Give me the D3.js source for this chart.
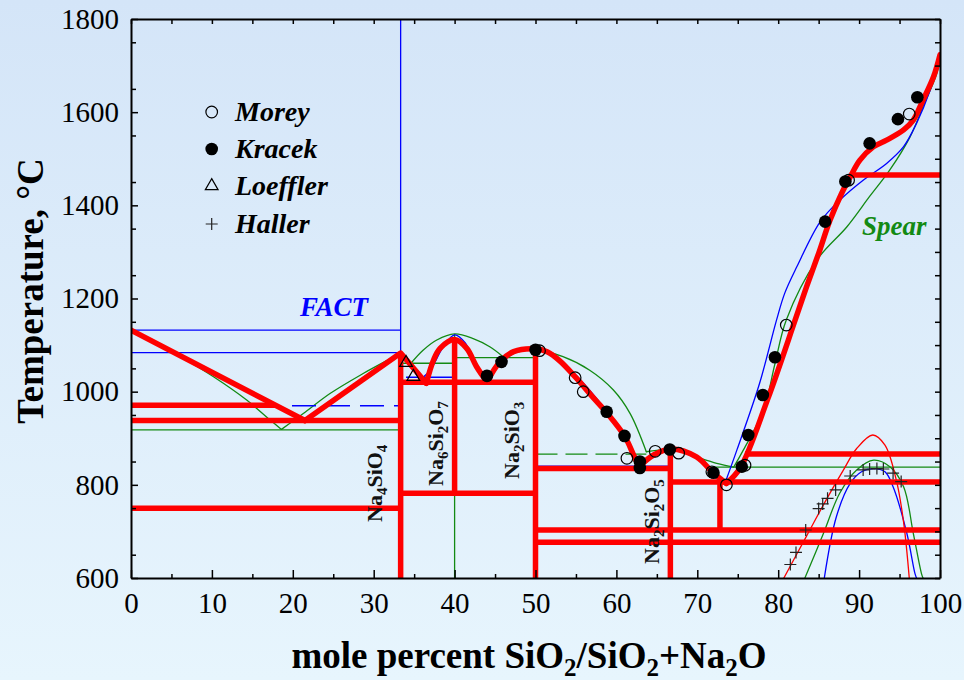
<!DOCTYPE html>
<html>
<head>
<meta charset="utf-8">
<script src="https://cdn.jsdelivr.net/npm/d3@7"></script>
<style>
  html, body { margin: 0; padding: 0; background: #e0eefa; }
  svg { display: block; }
</style>
</head>
<body>
<svg id="chart" width="964" height="680"></svg>
<script>
// ---- Axis ticks ----
const xTicks = [0, 10, 20, 30, 40, 50, 60, 70, 80, 90, 100];
const yTicks = [600, 800, 1000, 1200, 1400, 1600, 1800];

// ---- Assessed diagram (red): liquidus branches, [mol% SiO2, T °C] ----
const redNa2O      = [[0, 1132], [21.5, 938]];
const redNa4SiO4   = [[21.5, 938], [33.33, 1083], [36.5, 1018]];
const redNa6Si2O7  = [[36.5, 1018], [37.4, 1068], [38.2, 1093], [40, 1112], [41.5, 1093], [42.7, 1054], [44, 1021]];
const redNa2SiO3   = [[44, 1021], [45.6, 1064], [47.3, 1086], [50, 1092], [51.5, 1085], [53, 1066], [55, 1030], [57, 990], [58.8, 955], [61, 905], [62.1, 865], [62.8, 839]];
const redNa2Si2O5  = [[62.8, 839], [64.6, 864], [66.7, 877], [69.9, 860], [72, 825], [73.6, 803]];
const redSiO2      = [[73.6, 803], [75.3, 836], [78.7, 984], [82.1, 1154], [83.5, 1225], [85, 1297], [86.4, 1368], [87.85, 1426], [88.9, 1461], [90.1, 1497], [91.8, 1526], [93.4, 1540], [95.5, 1562], [96.7, 1583], [97.9, 1626], [99.2, 1676], [100, 1723]];
const redDome      = [[80.7, 600], [83.5, 690], [86, 770], [88, 830], [89.7, 878], [91.7, 907], [93.2, 885], [94.6, 810], [95.5, 720], [96.2, 600]];
// isotherms [T, x1, x2] and compound lines [x, T1, T2]
const redIsotherms = [[971, 0, 17.8], [938, 0, 33.33], [750, 0, 33.33], [1020, 33.33, 50], [782, 33.33, 50], [835, 50, 66.67], [806, 66.67, 100], [703, 50, 100], [677, 50, 100], [866, 75.9, 100], [1465, 88.9, 100]];
const redCompounds = [[33.33, 600, 1083], [40, 782, 1112], [50, 600, 1092], [66.67, 600, 877], [72.8, 703, 806]];

// ---- FACT calculation (blue) ----
const blueNa4SiO4  = [[33.33, 1084], [34.9, 1054], [36.1, 1031]];
const blueNa6Si2O7 = [[36.1, 1031], [37, 1046], [38.6, 1096], [40, 1122], [41.3, 1105], [42.7, 1054], [44, 1025]];
const blueNa2SiO3  = [[44, 1025], [46, 1066], [48, 1088], [50, 1093], [52, 1082], [55.3, 1030], [58.5, 965], [61.3, 900], [62.7, 842]];
const blueSiO2     = [[73.6, 812], [74.9, 875], [77.7, 1018], [79.8, 1154], [80.8, 1211], [82.3, 1268], [85.2, 1365], [87.6, 1411], [90.5, 1454], [93.4, 1490], [95.5, 1526], [97.1, 1576], [98.8, 1648], [100, 1719]];
const blueDome     = [[85.7, 600], [87.2, 732], [88.9, 803], [90.3, 828], [91.8, 835], [93.2, 828], [94.2, 796], [95.9, 696], [96.9, 610], [97.1, 600]];
const blueIsotherms = [[1132, 0, 33.33], [1084, 0, 33.33], [1031, 34, 40], [840, 50, 66.67]];
const blueDashed    = [[970, 19.9, 33.33]];
const blueCompounds = [[33.33, 1084, 1800]];

// ---- Spear (green) ----
const greenNa2O      = [[0, 1132], [3, 1104], [6.1, 1075], [10.2, 1032], [14.3, 982], [17.2, 939], [18.6, 919]];
const greenNa4SiO4   = [[18.6, 919], [21.3, 953], [24.6, 996], [28.7, 1039], [32.4, 1074], [33.33, 1083]];
const greenNa4SiO4b  = [[33.33, 1083], [34.6, 1061]];
const greenNa6Si2O7  = [[34.6, 1061], [36.1, 1089], [37.8, 1111], [40, 1124], [42.3, 1114], [44.4, 1096], [46, 1075]];
const greenNa2SiO3   = [[46, 1075], [48, 1086], [50, 1090], [53.4, 1075], [56.7, 1046], [59.6, 1004], [61.7, 953], [63.7, 871]];
const greenNa2Si2O5  = [[63.7, 871], [65, 874], [66.7, 876], [69.1, 864], [72.4, 846], [74.5, 838]];
const greenSiO2      = [[74.5, 838], [75.7, 875], [78.2, 961], [79.6, 1060], [81, 1154], [84.8, 1283], [88.5, 1354], [91.3, 1419], [93.8, 1476], [96.3, 1547], [97.9, 1612], [99.6, 1683], [100, 1719]];
const greenDome      = [[83.3, 600], [85.6, 696], [87.6, 782], [89.7, 832], [91.8, 853], [93.8, 839], [95.5, 796], [96.7, 696], [97.7, 610], [97.9, 600]];
const greenIsotherms = [[918, 0, 33.33], [1061, 33.33, 40], [1073, 40, 50], [838, 71, 100]];
const greenDashed    = [[866, 50, 63.7]];
const greenCompounds = [[40, 600, 1124]];

// ---- Experimental points ----
const morey    = [[50.5, 1088], [54.9, 1030], [55.9, 1000], [61.3, 857], [64.8, 872], [67.7, 868], [71.8, 828], [73.6, 800], [75.9, 842], [81.0, 1143], [88.7, 1454], [96.2, 1596]];
const kracek   = [[44, 1034], [45.8, 1064], [50, 1090], [58.8, 957], [61, 905], [62.9, 850], [62.9, 836], [66.6, 876], [72, 826], [75.5, 839], [76.3, 907], [78.1, 993], [79.6, 1074], [85.8, 1365], [88.3, 1451], [91.3, 1533], [94.8, 1585], [97.2, 1632]];
const loeffler = [[34.9, 1032], [34.0, 1062]];
const haller   = [[81.5, 629], [82.2, 655], [83.4, 703], [85.0, 749], [85.5, 759], [86.1, 771], [87.1, 789], [88.9, 819], [90.5, 832], [91.3, 834], [92.2, 835], [93.0, 834], [94.2, 825], [95.2, 807]];

const legendNames = ["Morey", "Kracek", "Loeffler", "Haller"];

// ---- Colours ----
const RED = "#ff0000", BLUE = "#0000ff", GREEN = "#138a13";
const SERIF = "'Liberation Serif', 'Times New Roman', serif";

const svg = d3.select("#chart");
const W = 964, H = 680;

// background gradient
const defs = svg.append("defs");
const grad = defs.append("linearGradient").attr("id", "bg").attr("x1", 0).attr("y1", 0).attr("x2", 0).attr("y2", 1);
grad.append("stop").attr("offset", "0%").attr("stop-color", "#d4e5f8");
grad.append("stop").attr("offset", "100%").attr("stop-color", "#e7f5fd");
svg.append("rect").attr("width", W).attr("height", H).attr("fill", "url(#bg)");

const x = d3.scaleLinear().domain([0, 100]).range([131, 940]);
const y = d3.scaleLinear().domain([600, 1800]).range([578, 19]);

defs.append("clipPath").attr("id", "plot")
  .append("rect").attr("x", x(0)).attr("y", y(1800)).attr("width", x(100) - x(0)).attr("height", y(600) - y(1800));

const plot = svg.append("g").attr("clip-path", "url(#plot)");

const smooth = d3.line().x(d => x(d[0])).y(d => y(d[1])).curve(d3.curveCatmullRom.alpha(0.5));
const straight = d3.line().x(d => x(d[0])).y(d => y(d[1]));

function curves(list, color, width, gen) {
  list.forEach(pts => plot.append("path").attr("d", gen(pts))
    .attr("fill", "none").attr("stroke", color).attr("stroke-width", width)
    .attr("stroke-linejoin", "round").attr("stroke-linecap", "round"));
}
function isotherms(list, color, width, dash) {
  plot.append("g").selectAll("line").data(list).join("line")
    .attr("x1", d => x(d[1])).attr("x2", d => x(d[2]))
    .attr("y1", d => y(d[0])).attr("y2", d => y(d[0]))
    .attr("stroke", color).attr("stroke-width", width)
    .attr("stroke-dasharray", dash || null);
}
function verticals(list, color, width) {
  plot.append("g").selectAll("line").data(list).join("line")
    .attr("x1", d => x(d[0])).attr("x2", d => x(d[0]))
    .attr("y1", d => y(d[1])).attr("y2", d => y(d[2]))
    .attr("stroke", color).attr("stroke-width", width);
}

// Spear (green)
isotherms(greenIsotherms, GREEN, 1.3);
isotherms(greenDashed, GREEN, 1.3, "22 8");
verticals(greenCompounds, GREEN, 1.3);
curves([greenNa2O, greenNa4SiO4, greenNa6Si2O7, greenNa2SiO3, greenNa2Si2O5, greenSiO2, greenDome], GREEN, 1.3, smooth);
curves([greenNa4SiO4b], GREEN, 1.3, straight);

// FACT (blue)
isotherms(blueIsotherms, BLUE, 1.3);
isotherms(blueDashed, BLUE, 1.5, "24 10");
verticals(blueCompounds, BLUE, 1.3);
curves([blueNa4SiO4], BLUE, 1.3, straight);
curves([blueNa6Si2O7, blueNa2SiO3, blueSiO2, blueDome], BLUE, 1.3, smooth);

// assessed diagram (red)
curves([redDome], RED, 1.3, smooth);
isotherms(redIsotherms, RED, 5.5);
verticals(redCompounds, RED, 5.5);
curves([redNa2O, redNa4SiO4], RED, 5.5, straight);
curves([redNa6Si2O7, redNa2SiO3, redNa2Si2O5, redSiO2], RED, 5.5, smooth);

// experimental points
const marks = svg.append("g");
marks.selectAll(".morey").data(morey).join("circle")
  .attr("cx", d => x(d[0])).attr("cy", d => y(d[1])).attr("r", 5.8)
  .attr("fill", "none").attr("stroke", "#000").attr("stroke-width", 1.2);
marks.selectAll(".kracek").data(kracek).join("circle")
  .attr("cx", d => x(d[0])).attr("cy", d => y(d[1])).attr("r", 6.3).attr("fill", "#000");
const tri = d3.symbol().type(d3.symbolTriangle).size(70);
marks.selectAll(".loeffler").data(loeffler).join("path")
  .attr("transform", d => `translate(${x(d[0])},${y(d[1])})`).attr("d", tri())
  .attr("fill", "none").attr("stroke", "#000").attr("stroke-width", 1.2);
marks.selectAll(".haller").data(haller).join("path")
  .attr("transform", d => `translate(${x(d[0])},${y(d[1])})`)
  .attr("d", "M-6,0H6M0,-6V6").attr("stroke", "#222").attr("stroke-width", 1.2);

// axes
function styleAxis(g) {
  g.selectAll(".domain").attr("stroke", "#000").attr("stroke-width", 2);
  g.selectAll(".tick line").attr("stroke", "#000").attr("stroke-width", 1.5);
  g.selectAll(".tick text").attr("font-family", SERIF).attr("font-size", 29).attr("fill", "#000");
}
const dropLabels = g => g.selectAll(".tick text").remove();
const xMinor = d3.range(5, 100, 10);
const xAll = d3.range(0, 101, 5);
const yMinor = d3.range(650, 1800, 100);
const yAll = d3.range(600, 1801, 50);

svg.append("g").attr("transform", `translate(0,${y(600)})`)
  .call(d3.axisBottom(x).tickValues(xMinor).tickSize(-4))
  .call(g => g.select(".domain").remove()).call(dropLabels).call(styleAxis);
svg.append("g").attr("transform", `translate(0,${y(1800)})`)
  .call(d3.axisTop(x).tickValues(xAll).tickSize(-5).tickSizeOuter(0)).call(dropLabels).call(styleAxis);
svg.append("g").attr("transform", `translate(${x(100)},0)`)
  .call(d3.axisRight(y).tickValues(yAll).tickSize(-5).tickSizeOuter(0)).call(dropLabels).call(styleAxis);
svg.append("g").attr("transform", `translate(${x(0)},0)`)
  .call(d3.axisLeft(y).tickValues(yMinor).tickSize(-5))
  .call(g => g.select(".domain").remove()).call(dropLabels).call(styleAxis);
svg.append("g").attr("transform", `translate(0,${y(600)})`)
  .call(d3.axisBottom(x).tickValues(xTicks).tickSize(-8).tickSizeOuter(0).tickPadding(14).tickFormat(d3.format("d"))).call(styleAxis);
svg.append("g").attr("transform", `translate(${x(0)},0)`)
  .call(d3.axisLeft(y).tickValues(yTicks).tickSize(-7).tickSizeOuter(0).tickPadding(12).tickFormat(d3.format("d"))).call(styleAxis);

// chemical formula text with subscripts: parts alternate plain / subscript digits
function chem(t, parts, sub) {
  let lowered = false;
  parts.forEach(p => {
    const isSub = /^\d$/.test(p);
    const span = t.append("tspan").text(p);
    if (isSub) {
      span.attr("font-size", sub.size);
      if (!lowered) { span.attr("dy", sub.dy); lowered = true; }
    } else if (lowered) {
      span.attr("dy", -sub.dy); lowered = false;
    }
  });
}

// axis titles
const xt = svg.append("text").attr("x", 529).attr("y", 668).attr("text-anchor", "middle")
  .attr("font-family", SERIF).attr("font-weight", "bold").attr("font-size", 37).attr("fill", "#000");
chem(xt, ["mole percent SiO", "2", "/SiO", "2", "+Na", "2", "O"], {size: 25, dy: 8});

svg.append("text").attr("transform", "translate(43,291) rotate(-90)").attr("text-anchor", "middle")
  .attr("font-family", SERIF).attr("font-weight", "bold").attr("font-size", 37).attr("fill", "#000")
  .text("Temperature, \u00b0C");

// compound labels
const compoundLabels = [
  {parts: ["Na", "4", "SiO", "4"], px: 382, py: 522},
  {parts: ["Na", "6", "Si", "2", "O", "7"], px: 443, py: 486},
  {parts: ["Na", "2", "SiO", "3"], px: 519, py: 479},
  {parts: ["Na", "2", "Si", "2", "O", "5"], px: 659, py: 564}
];
compoundLabels.forEach(c => {
  const t = svg.append("text").attr("transform", `translate(${c.px},${c.py}) rotate(-90)`)
    .attr("font-family", SERIF).attr("font-weight", "bold").attr("font-size", 22).attr("fill", "#111");
  chem(t, c.parts, {size: 15, dy: 5});
});

// model labels
svg.append("text").attr("x", 334).attr("y", 316).attr("text-anchor", "middle")
  .attr("font-family", SERIF).attr("font-weight", "bold").attr("font-style", "italic")
  .attr("font-size", 27).attr("fill", BLUE).text("FACT");
svg.append("text").attr("x", 862).attr("y", 235)
  .attr("font-family", SERIF).attr("font-weight", "bold").attr("font-style", "italic")
  .attr("font-size", 27).attr("fill", GREEN).text("Spear");

// legend
const legend = svg.append("g");
const legY = [112, 149, 186, 224];
legend.append("circle").attr("cx", 211.7).attr("cy", legY[0]).attr("r", 5.8)
  .attr("fill", "none").attr("stroke", "#000").attr("stroke-width", 1.2);
legend.append("circle").attr("cx", 211.7).attr("cy", legY[1]).attr("r", 6.3).attr("fill", "#000");
legend.append("path").attr("transform", `translate(211.7,${legY[2]})`).attr("d", tri())
  .attr("fill", "none").attr("stroke", "#000").attr("stroke-width", 1.2);
legend.append("path").attr("transform", `translate(211.7,${legY[3]})`)
  .attr("d", "M-6,0H6M0,-6V6").attr("stroke", "#222").attr("stroke-width", 1.2);
legend.selectAll("text").data(legendNames).join("text")
  .attr("x", 235).attr("y", (d, i) => legY[i] + 9)
  .attr("font-family", SERIF).attr("font-weight", "bold").attr("font-style", "italic")
  .attr("font-size", 28).attr("fill", "#000").text(d => d);
</script>
</body>
</html>
